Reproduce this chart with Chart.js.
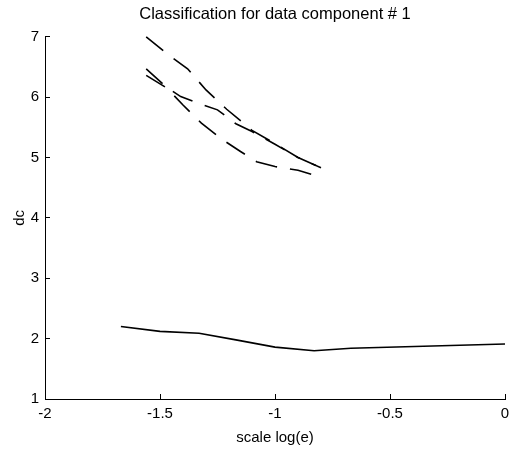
<!DOCTYPE html>
<html lang="en">
<head>
<meta charset="UTF-8">
<title>Classification for data component # 1</title>
<script src="https://cdn.jsdelivr.net/npm/chart.js"></script>
<style>
html, body { margin: 0; padding: 0; background: #ffffff; }
#wrap { position: relative; width: 512px; height: 449px; }
</style>
</head>
<body>
<div id="wrap"><canvas id="dcChart" width="512" height="449"></canvas></div>
<script>
// values
const solidX = [-1.67, -1.5, -1.33, -1.17, -1.0, -0.83, -0.67, 0.0];
const solidY = [2.20, 2.12, 2.09, 1.98, 1.86, 1.80, 1.84, 1.91];

const dashAX = [-1.56, -1.47, -1.38, -1.30, -1.21, -1.10, -1.0, -0.9, -0.8];
const dashAY = [7.00, 6.72, 6.47, 6.12, 5.80, 5.45, 5.23, 5.00, 4.83];

const dashBX = [-1.56, -1.47, -1.41, -1.32, -1.25, -1.17, -1.10, -1.0, -0.9, -0.8];
const dashBY = [6.47, 6.16, 6.01, 5.88, 5.79, 5.56, 5.43, 5.22, 5.00, 4.83];

const dashCX = [-1.56, -1.47, -1.40, -1.32, -1.23, -1.15, -1.08, -1.0, -0.9, -0.8];
const dashCY = [6.36, 6.15, 5.87, 5.57, 5.30, 5.10, 4.93, 4.85, 4.79, 4.67];

const xTicks = [-2, -1.5, -1, -0.5, 0];
const yTicks = [1, 2, 3, 4, 5, 6, 7];

function pts(xs, ys) {
  return xs.map((x, i) => ({ x: x, y: ys[i] }));
}

function lineSet(xs, ys, dashed) {
  return {
    data: pts(xs, ys),
    borderColor: '#000000',
    borderWidth: 1.6,
    borderDash: dashed ? [22, 13] : [],
    pointRadius: 0,
    fill: false,
    tension: 0,
    clip: false
  };
}

const tickFont = { family: "'Liberation Sans', Arial, sans-serif", size: 15 };

// axis line plus short ticks pointing into the plot (negative tick length)
const axisGrid = {
  display: true,
  drawOnChartArea: false,
  drawTicks: true,
  tickLength: -5,
  color: '#000000',
  lineWidth: 1
};
const axisBorder = { display: true, color: '#000000', width: 1 };

new Chart(document.getElementById('dcChart'), {
  type: 'line',
  data: {
    datasets: [
      lineSet(dashAX, dashAY, true),
      lineSet(dashBX, dashBY, true),
      lineSet(dashCX, dashCY, true),
      lineSet(solidX, solidY, false)
    ]
  },
  options: {
    responsive: false,
    animation: false,
    layout: { padding: { left: 0, right: 0, top: 0, bottom: 0 } },
    plugins: {
      legend: { display: false },
      tooltip: { enabled: false },
      title: {
        display: true,
        fullSize: false,
        text: 'Classification for data component # 1',
        color: '#000000',
        font: { family: tickFont.family, size: 16.5, weight: 'normal' },
        padding: { top: 5, bottom: 12 }
      }
    },
    scales: {
      x: {
        type: 'linear',
        min: -2,
        max: 0,
        afterBuildTicks(axis) { axis.ticks = xTicks.map(v => ({ value: v })); },
        afterFit(axis) { axis.height = 50; axis.paddingRight = 7; },
        ticks: { color: '#000000', font: tickFont, padding: 11, maxRotation: 0, callback: v => String(v) },
        grid: axisGrid,
        border: axisBorder,
        title: { display: true, text: 'scale log(e)', color: '#000000', font: tickFont, padding: { top: 2, bottom: 2 } }
      },
      y: {
        type: 'linear',
        min: 1,
        max: 7,
        afterBuildTicks(axis) { axis.ticks = yTicks.map(v => ({ value: v })); },
        afterFit(axis) { axis.width = 45; },
        ticks: { color: '#000000', font: tickFont, padding: 11, callback: v => String(v) },
        grid: axisGrid,
        border: axisBorder,
        title: { display: true, text: 'dc', color: '#000000', font: tickFont, padding: { top: 11, bottom: 0 } }
      }
    }
  }
});
</script>
</body>
</html>
